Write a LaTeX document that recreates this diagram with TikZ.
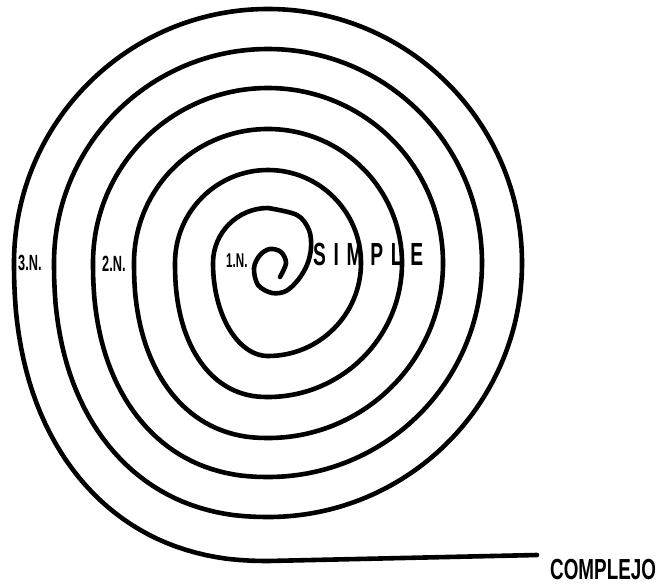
\documentclass[tikz,border=0pt]{standalone}
\usepackage{fontspec}
\newfontfamily\labfont[FakeStretch=0.58]{Liberation Sans Bold}
\newfontfamily\simplefont[FakeStretch=0.6,LetterSpace=24]{Liberation Sans Bold}
\newfontfamily\complejofont[FakeStretch=0.65]{Liberation Sans Bold}
\begin{document}
\begin{tikzpicture}[x=1pt,y=1pt,
  spiral/.style={line width=4.6pt, line cap=round, line join=round},
  lab/.style={inner sep=0pt, anchor=base west, font={\labfont\fontsize{22pt}{24pt}\selectfont}},
  bigword/.style={inner sep=0pt, anchor=base west}]
\fill[white] (0,0) rectangle (661,-584);
\useasboundingbox (0,0) rectangle (661,-584);
\draw[spiral] plot[smooth, tension=0.55] coordinates {(280,-277) (286,-263) (281,-252) (270,-249) (260,-255) (254,-268) (258,-285) (272,-293) (286,-291) (298,-280) (307,-265) (311,-248) (309,-230) (297,-215) (268,-208)}
  arc[start angle=90, end angle=180, radius=55pt]
  \foreach \a/\b/\e in {55/93/1.0, 93/134/0.9, 134/175/0.9, 175/214/0.9, 214/254/0.9} {
    -- plot[domain=0.5:89.5, samples=40] ({268-\a*cos(\x)^\e}, {-263-\b*sin(\x)^\e})
    -- (268,{-263-\b})
    arc[start angle=270, end angle=540, radius=\b pt]
  }
  -- plot[domain=0.5:89.5, samples=40] ({268-254*cos(\x)^0.9}, {-263-298*sin(\x)^0.9})
  -- (268,-561) -- (537,-555);
\node[lab] (n3) at (18,-270) {3.N.};
\node[lab] (n2) at (102,-271) {2.N.};
\node[lab, font={\labfont\fontsize{20pt}{22pt}\selectfont}] (n1) at (226,-267) {1.N.};
\node[bigword, font={\simplefont\fontsize{32pt}{34pt}\selectfont}] (simple) at (313,-265) {SIMPLE};
\node[bigword, font={\complejofont\fontsize{29pt}{31pt}\selectfont}] (complejo) at (550,-579) {COMPLEJO};
\end{tikzpicture}
\end{document}
